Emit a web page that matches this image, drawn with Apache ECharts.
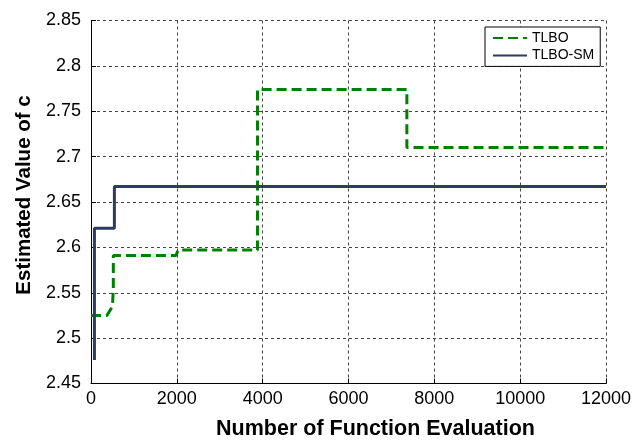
<!DOCTYPE html>
<html>
<head>
<meta charset="utf-8">
<script src="https://cdn.jsdelivr.net/npm/echarts@6/dist/echarts.min.js"></script>
<style>html,body{margin:0;padding:0;background:#fff}#c{width:644px;height:442px}</style>
</head>
<body>
<div id="c"></div>
<script>
// Data (step corners)
const tlboX  = [0, 370, 500, 520, 520, 1980, 2030, 3880, 3880, 7360, 7360, 12000];
const tlboY  = [2.525, 2.525, 2.535, 2.555, 2.591, 2.591, 2.597, 2.597, 2.774, 2.774, 2.710, 2.710];
const smX    = [80, 80, 545, 545, 12000];
const smY    = [2.476, 2.621, 2.621, 2.667, 2.667];
const xTicks = [0, 2000, 4000, 6000, 8000, 10000, 12000];
const yTicks = [2.45, 2.5, 2.55, 2.6, 2.65, 2.7, 2.75, 2.8, 2.85];
const seriesNames = ['TLBO', 'TLBO-SM'];
const xTitle = 'Number of Function Evaluation';
const yTitle = 'Estimated Value of c';

const FONT = 'Liberation Sans, Arial, sans-serif';
const pair = (xs, ys) => xs.map((x, i) => [x, ys[i]]);

const chart = echarts.init(document.getElementById('c'));
const gridLine = { show: true, lineStyle: { color: '#444', type: [3, 3], width: 1 } };
chart.setOption({
  animation: false,
  backgroundColor: '#fff',
  grid: { left: 91, right: 38, top: 20.5, bottom: 58.5, containLabel: false },
  xAxis: {
    type: 'value',
    min: xTicks[0], max: xTicks[xTicks.length - 1], interval: 2000,
    axisLine: { show: true, onZero: false, lineStyle: { color: '#000', width: 1 } },
    axisTick: { show: true, inside: true, length: 5, lineStyle: { color: '#000' } },
    axisLabel: { margin: 7, fontFamily: FONT, fontSize: 18, color: '#000',
      formatter: v => String(v) },
    splitLine: gridLine
  },
  yAxis: {
    type: 'value',
    min: yTicks[0], max: yTicks[yTicks.length - 1], interval: 0.05,
    axisLine: { show: true, onZero: false, lineStyle: { color: '#000', width: 1 } },
    axisTick: { show: true, inside: true, length: 5, lineStyle: { color: '#000' } },
    axisLabel: { margin: 10, fontFamily: FONT, fontSize: 18, color: '#000',
      formatter: v => String(+(+v).toFixed(2)) },
    splitLine: gridLine
  },
  graphic: [{
    type: 'text', x: 24, y: 195, rotation: Math.PI / 2,
    style: { text: yTitle, fontFamily: FONT, fontSize: 20.5, fontWeight: 'bold', fill: '#000',
      align: 'center', verticalAlign: 'middle' }
  }, {
    type: 'text', x: 375.5, y: 429,
    style: { text: xTitle, fontFamily: FONT, fontSize: 21.5, fontWeight: 'bold', fill: '#000',
      align: 'center', verticalAlign: 'middle' }
  }],
  legend: {
    orient: 'vertical', left: 485, top: 27,
    padding: [4, 6, 4, 7], itemGap: 3.4, itemWidth: 34, itemHeight: 14,
    backgroundColor: '#fff', borderColor: '#000', borderWidth: 1, borderRadius: 0,
    itemStyle: { opacity: 0 },
    textStyle: { fontFamily: FONT, fontSize: 14, color: '#000' },
    data: seriesNames
  },
  series: [
    { name: seriesNames[0], type: 'line', data: pair(tlboX, tlboY), symbol: 'none',
      lineStyle: { color: '#008000', width: 3, type: [10, 5] }, itemStyle: { color: '#008000' }, z: 3 },
    { name: seriesNames[1], type: 'line', data: pair(smX, smY), symbol: 'none',
      lineStyle: { color: '#2c3e60', width: 3, type: 'solid' }, itemStyle: { color: '#2c3e60' }, z: 4 }
  ]
});
</script>
</body>
</html>
